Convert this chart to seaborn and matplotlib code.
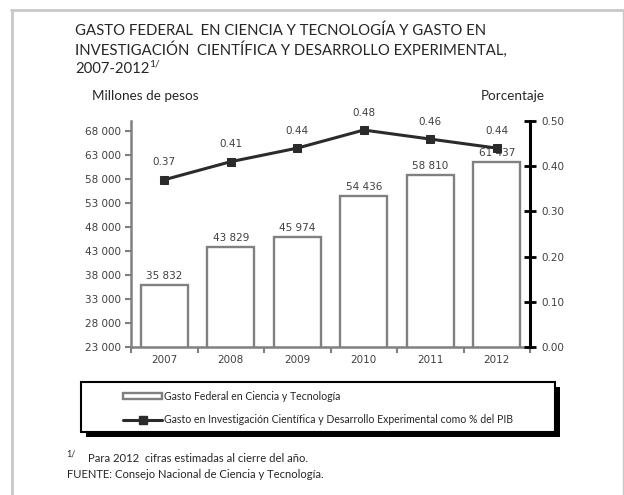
import numpy as np
import pandas as pd
import matplotlib
matplotlib.use("Agg")
import matplotlib.pyplot as plt
import seaborn as sns
from matplotlib.patches import Rectangle
from matplotlib.lines import Line2D

# ---- data ----
years = ["2007", "2008", "2009", "2010", "2011", "2012"]
gasto_federal = [35832, 43829, 45974, 54436, 58810, 61437]
gide_pib = [0.37, 0.41, 0.44, 0.48, 0.46, 0.44]
left_ticks = [23000, 28000, 33000, 38000, 43000, 48000, 53000, 58000, 63000, 68000]
right_ticks = [0.0, 0.1, 0.2, 0.3, 0.4, 0.5]

title_lines = ["GASTO FEDERAL  EN CIENCIA Y TECNOLOGÍA Y GASTO EN",
               "INVESTIGACIÓN  CIENTÍFICA Y DESARROLLO EXPERIMENTAL,",
               "2007-2012"]
legend_labels = ["Gasto Federal en Ciencia y Tecnología",
                 "Gasto en Investigación Científica y Desarrollo Experimental como % del PIB"]

df = pd.DataFrame({"year": years, "gasto": gasto_federal, "pib": gide_pib,
                   "pos": np.arange(len(years))})

sns.set_theme(style="white")
plt.rcParams["font.family"] = ["DejaVu Sans"]

W, H = 624, 495
fig = plt.figure(figsize=(W / 100, H / 100), dpi=100)
fig.patch.set_facecolor("white")

def fx(px):
    return px / W

def fy(py):
    return 1 - py / H

TXT = "#404040"
GRAY = "#808080"
SANS2 = ["Lato", "DejaVu Sans"]

# axes placement (pixels)
L, R, T, B = 131, 530, 121, 347
ax = fig.add_axes([fx(L), fy(B), fx(R - L), (B - T) / H])

sns.barplot(data=df, x="year", y="gasto", ax=ax, color="white",
            edgecolor=GRAY, linewidth=1.7, width=0.71, saturation=1)
ax.set_ylim(23000, 70080)
ax.set_xlim(-0.5, len(years) - 0.5)
ax.set_yticks(left_ticks)
ax.set_yticklabels([f"{v:,}".replace(",", " ") for v in left_ticks])
ax.set_xlabel("")
ax.set_ylabel("")
for s in ["top", "right"]:
    ax.spines[s].set_visible(False)
for s in ["left", "bottom"]:
    ax.spines[s].set_color(GRAY)
    ax.spines[s].set_linewidth(1.8)
ax.tick_params(axis="y", direction="out", length=4, width=1.5, color=GRAY,
               labelsize=7.5, labelcolor=TXT, pad=3, left=True)
# x ticks at category boundaries, labels at centers
ax.set_xticks(np.arange(len(years)))
ax.set_xticklabels(years)
ax.set_xticks(np.arange(-0.5, len(years)), minor=True)
ax.tick_params(axis="x", which="major", length=0, labelsize=7.5, labelcolor=TXT, pad=6)
ax.tick_params(axis="x", which="minor", direction="out", length=4, width=1.5,
               color=GRAY, bottom=True)

for i, v in enumerate(gasto_federal):
    ax.annotate(f"{v:,}".replace(",", " "), (i, v), xytext=(0, 3),
                textcoords="offset points", ha="center", va="bottom",
                fontsize=7.5, color=TXT)

ax2 = ax.twinx()
sns.lineplot(data=df, x="pos", y="pib", ax=ax2, color="#2b2b2b", linewidth=2.2,
             marker="s", markersize=6, markeredgecolor="#2b2b2b")
ax2.set_ylim(0, 0.5)
ax2.set_xlim(-0.5, len(years) - 0.5)
ax2.set_yticks(right_ticks)
ax2.set_yticklabels([f"{v:.2f}" for v in right_ticks])
ax2.set_xlabel("")
ax2.set_ylabel("")
for s in ["top", "left", "bottom"]:
    ax2.spines[s].set_visible(False)
ax2.spines["right"].set_color("black")
ax2.spines["right"].set_linewidth(2.2)
ax2.tick_params(axis="y", direction="inout", length=8, width=2, color="black",
                labelsize=7.5, labelcolor=TXT, pad=4, right=True)
for i, v in enumerate(gide_pib):
    ax2.annotate(f"{v:.2f}", (i, v), xytext=(0, 9),
                 textcoords="offset points", ha="center", va="bottom",
                 fontsize=7.5, color=TXT)

# axis titles
fig.text(fx(92), fy(96), "Millones de pesos", fontsize=9.7, color="#262626",
         family=SANS2, va="center", ha="left")
fig.text(fx(545), fy(96), "Porcentaje", fontsize=9.7, color="#262626",
         family=SANS2, va="center", ha="right")

# title
tys = [31, 50, 69]
ttexts = []
for line, ty in zip(title_lines, tys):
    ttexts.append(fig.text(fx(75), fy(ty), line, fontsize=10.7, color="#262626",
                           family=SANS2, va="center", ha="left"))

# legend frame with shadow
lx0, lx1, ly0, ly1 = 81, 555, 382, 432
sh = 5
fig.add_artist(Rectangle((fx(lx0 + sh), fy(ly1 + sh)), fx(lx1 - lx0), (ly1 - ly0) / H,
                         transform=fig.transFigure, facecolor="black",
                         edgecolor="black", linewidth=0))
fig.add_artist(Rectangle((fx(lx0), fy(ly1)), fx(lx1 - lx0), (ly1 - ly0) / H,
                         transform=fig.transFigure, facecolor="white",
                         edgecolor="black", linewidth=1.5))
handles = [Rectangle((0, 0), 1, 1, facecolor="white", edgecolor=GRAY, linewidth=1.7),
           Line2D([0], [0], color="#2b2b2b", linewidth=2.2, marker="s",
                  markersize=6)]
leg = fig.legend(handles, legend_labels, loc="center left",
                 bbox_to_anchor=(fx(123), fy(408)), bbox_transform=fig.transFigure,
                 frameon=False, handlelength=3.7, handleheight=0.5,
                 handletextpad=0.2, labelspacing=1.15, borderaxespad=0,
                 borderpad=0, prop={"family": SANS2, "size": 7.6})
for t in leg.get_texts():
    t.set_color("#262626")

# footnotes
fig.text(fx(88), fy(458), "Para 2012  cifras estimadas al cierre del año.",
         fontsize=8.1, color="#262626", family=SANS2, va="center", ha="left")
fig.text(fx(66), fy(454), "1/", fontsize=6.5, color="#262626", family=SANS2,
         va="center", ha="left")
fig.text(fx(67), fy(474), "FUENTE: Consejo Nacional de Ciencia y Tecnología.",
         fontsize=8.1, color="#262626", family=SANS2, va="center", ha="left")

# outer frame (top, left, right)
fc = "#c8c8c8"
fig.add_artist(Line2D([fx(12), fx(12)], [fy(10), 0], transform=fig.transFigure,
                      color=fc, linewidth=2))
fig.add_artist(Line2D([fx(11), fx(623)], [fy(10), fy(10)], transform=fig.transFigure,
                      color=fc, linewidth=2))
fig.add_artist(Line2D([fx(623), fx(623)], [fy(10), 0], transform=fig.transFigure,
                      color=fc, linewidth=1))

# superscript after title line 3
fig.canvas.draw()
bb = ttexts[2].get_window_extent()
fig.text(bb.x1 / W, fy(64), "1/", fontsize=7.5, color="#262626",
         family=SANS2, va="center", ha="left")

fig.savefig("out.png", dpi=100, facecolor="white")
